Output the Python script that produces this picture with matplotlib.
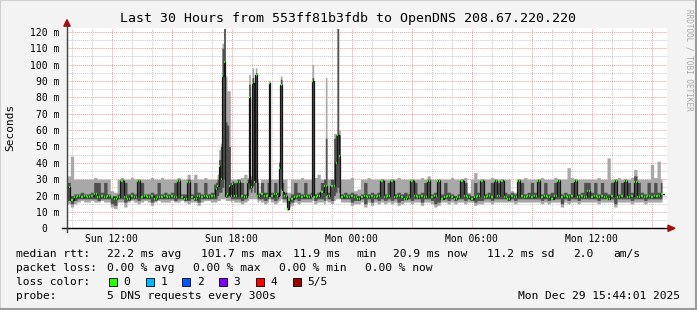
import numpy as np
import matplotlib
matplotlib.use('Agg')
import matplotlib.pyplot as plt
from matplotlib.patches import Rectangle, Polygon

W, H = 697, 310
mono = 'DejaVu Sans Mono'

# 10 minute steps, one row per hour, starting Sun 09:46
med10 = [
    [25, 17, 19, 20, 19, 20], [19, 20, 21, 19, 20, 19], [20, 19, 18, 19, 29, 19],
    [18, 20, 19, 29, 19, 20], [19, 20, 18, 19, 19, 20], [19, 20, 19, 29, 19, 18],
    [28, 19, 18, 20, 19, 20], [19, 20, 20, 20, 22, 20], [21, 27, 20, 28, 20, 19],
    [20, 20, 20, 20, 21, 20], [20, 20, 21, 20, 22, 20], [17, 18, 19, 20, 19, 20],
    [19, 20, 19, 20, 22, 26], [20, 26, 22, 20, 19, 20], [19, 20, 19, 18, 19, 20],
    [19, 20, 19, 20, 29, 19], [20, 29, 19, 20, 19, 18], [19, 29, 20, 19, 20, 19],
    [29, 19, 20, 29, 18, 19], [20, 19, 18, 19, 29, 20], [19, 18, 19, 20, 29, 19],
    [20, 19, 29, 20, 29, 19], [18, 20, 19, 29, 20, 19], [20, 19, 20, 29, 19, 20],
    [19, 18, 20, 29, 19, 20], [19, 20, 29, 19, 20, 19], [23, 19, 20, 19, 20, 19],
    [18, 20, 29, 19, 20, 29], [19, 20, 28, 19, 20, 19], [20, 19, 20, 20, 21, np.nan],
]
hi10 = [
    [32, 44, 30, 30, 30, 30], [30, 30, 31, 30, 30, 30], [30, 23, 22, 30, 31, 30],
    [30, 31, 30, 30, 30, 30], [30, 31, 30, 30, 31, 30], [30, 30, 30, 31, 30, 30],
    [33, 30, 33, 30, 30, 31], [30, 30, 30, 30, 30, 30], [30, 30, 30, 30, 31, 33],
    [30, 30, 30, 22, 30, 30], [30, 30, 30, 30, 30, 30], [22, 30, 30, 30, 31, 30],
    [30, 30, 31, 33, 30, 30], [30, 30, 32, 32, 30, 30], [30, 31, 23, 24, 30, 30],
    [31, 30, 30, 30, 30, 30], [30, 30, 30, 31, 30, 30], [30, 30, 30, 30, 31, 30],
    [32, 30, 30, 30, 30, 30], [30, 31, 30, 30, 30, 31], [22, 30, 34, 30, 30, 30],
    [30, 31, 30, 30, 30, 30], [30, 23, 22, 30, 30, 31], [30, 30, 30, 30, 31, 30],
    [30, 30, 31, 30, 30, 30], [37, 31, 30, 30, 30, 30], [30, 30, 30, 31, 30, 30],
    [43, 30, 30, 31, 30, 30], [30, 31, 36, 30, 30, 30], [30, 39, 31, 41, 30, np.nan],
]
lo10 = [
    [15, 13, 15, 16, 17, 16], [16, 17, 16, 16, 17, 16], [16, 13, 12, 16, 16, 13],
    [16, 17, 16, 15, 16, 17], [16, 14, 16, 17, 16, 16], [16, 17, 16, 16, 17, 16],
    [15, 16, 16, 14, 16, 17], [17, 16, 16, 16, 16, 16], [16, 17, 16, 16, 15, 16],
    [17, 16, 16, 17, 16, 15], [16, 16, 15, 16, 16, 16], [13, 14, 16, 15, 16, 16],
    [16, 16, 15, 16, 16, 15], [16, 15, 16, 16, 16, 16], [16, 14, 15, 15, 16, 13],
    [16, 14, 16, 15, 16, 15], [16, 15, 16, 14, 15, 16], [16, 15, 16, 16, 14, 16],
    [16, 15, 13, 14, 16, 16], [15, 16, 15, 16, 16, 15], [16, 16, 14, 15, 15, 16],
    [16, 15, 16, 16, 16, 16], [16, 16, 15, 16, 16, 16], [16, 16, 16, 16, 15, 16],
    [15, 16, 16, 16, 13, 16], [15, 16, 16, 15, 16, 16], [16, 16, 16, 15, 16, 16],
    [16, 16, 13, 16, 16, 16], [16, 15, 16, 16, 16, 15], [16, 16, 16, 16, 16, np.nan],
]
q1_10 = [
    [17, 15, 17, 18, 18, 18], [18, 18, 18, 17, 18, 18], [18, 15, 14, 18, 18, 16],
    [17, 18, 18, 17, 18, 18], [18, 16, 17, 18, 18, 18], [18, 18, 17, 18, 18, 17],
    [17, 18, 17, 16, 18, 18], [18, 18, 18, 18, 18, 18], [18, 18, 18, 18, 17, 18],
    [18, 18, 18, 18, 18, 17], [18, 18, 17, 18, 18, 18], [15, 16, 18, 17, 18, 18],
    [18, 18, 17, 18, 18, 17], [18, 17, 18, 18, 18, 18], [18, 16, 17, 17, 18, 15],
    [18, 16, 18, 17, 18, 17], [18, 17, 18, 16, 17, 18], [18, 17, 18, 18, 16, 18],
    [18, 17, 15, 16, 18, 18], [17, 18, 17, 18, 18, 17], [18, 17, 16, 17, 17, 18],
    [18, 17, 18, 18, 18, 18], [17, 18, 17, 18, 18, 18], [18, 18, 18, 18, 17, 18],
    [17, 18, 18, 18, 15, 18], [17, 18, 18, 17, 18, 18], [18, 18, 18, 17, 18, 18],
    [18, 18, 15, 18, 18, 18], [18, 17, 18, 18, 18, 17], [18, 18, 18, 18, 18, np.nan],
]
q3_10 = [
    [28, 20, 21, 21, 22, 21], [21, 22, 28, 28, 22, 28], [21, 20, 20, 21, 30, 28],
    [21, 22, 21, 30, 28, 21], [21, 22, 21, 28, 21, 22], [21, 22, 28, 30, 21, 21],
    [30, 21, 28, 22, 21, 28], [21, 22, 27, 28, 27, 28], [30, 29, 28, 30, 28, 21],
    [22, 21, 22, 21, 28, 22], [28, 22, 28, 22, 28, 22], [19, 21, 28, 22, 21, 28],
    [21, 22, 21, 22, 28, 30], [22, 30, 28, 28, 21, 22], [21, 22, 21, 20, 21, 28],
    [21, 22, 21, 22, 30, 21], [28, 30, 21, 22, 21, 22], [21, 30, 28, 21, 22, 28],
    [30, 21, 22, 30, 21, 28], [22, 21, 20, 21, 30, 28], [21, 20, 28, 22, 30, 21],
    [22, 28, 30, 28, 30, 22], [21, 22, 21, 30, 28, 21], [22, 28, 22, 30, 21, 28],
    [21, 22, 28, 30, 21, 22], [21, 28, 30, 21, 22, 28], [28, 22, 28, 21, 28, 22],
    [21, 28, 30, 21, 28, 30], [28, 22, 32, 28, 22, 21], [28, 22, 28, 22, 28, np.nan],
]

# spikes, read at 5 minute resolution (step index from start)
spk_step = [89, 90, 91, 92, 93, 94, 95, 96, 97, 98, 108, 109, 110, 111, 112, 113, 114,
            121, 127, 128, 132, 147, 155, 160, 161, 162, 163]
spk_lo = [16, 17, 17, 18, 18, 18, 17, 17, 17, 16, 17, 18, 18, 18, 18, 18, 16,
          18, 17, 18, 11, 17, 17, 17, 18, 18, 18]
spk_q1 = [18, 20, 22, 22, 25, 30, 19, 19, 20, 18, 20, 24, 22, 26, 22, 28, 18,
          22, 20, 24, 12, 20, 20, 20, 22, 25, 22]
spk_med = [24, 26, 38, 30, 93, 101.7, 20, 21, 26, 20, 28, 80, 25, 89, 28, 93.5, 20,
           88.5, 37, 87.5, 12, 90, 26, 26, 40, 57, 44]
spk_q3 = [28, 30, 42, 50, 110, 122, 65, 63, 50, 28, 30, 88, 30, 92, 30, 95, 28,
          89, 40, 91, 17, 92, 55, 55, 57, 122, 57]
spk_hi = [30, 33, 48, 52, 113, 122, 93, 84, 84, 30, 31, 94, 32, 98, 31, 98, 30,
          90, 41, 93, 22, 100, 92, 58, 58, 122, 60]

start_hour = 9 + 46 / 60
xtick_labels = ['Sun 12:00', 'Sun 18:00', 'Mon 00:00', 'Mon 06:00', 'Mon 12:00']
loss_labels = ['0', '1', '2', '3', '4', '5/5']
loss_colors = ['#26ff00', '#00b8ff', '#0059ff', '#7e00ff', '#ff0000', '#a10000']


def fine(rows):
    return np.repeat(np.array(rows, dtype=float).ravel(), 2)


lo, q1, med, q3, hi = fine(lo10), fine(q1_10), fine(med10), fine(q3_10), fine(hi10)
for i, s in enumerate(spk_step):
    lo[s], q1[s], med[s], q3[s], hi[s] = spk_lo[i], spk_q1[i], spk_med[i], spk_q3[i], spk_hi[i]
t = np.arange(len(med) + 1) / 12.0


def ext(a):
    return np.append(a, a[-1])


def fx(px):
    return px / W


def fy(py):
    return 1 - py / H


fig = plt.figure(figsize=(W / 100, H / 100), dpi=100, facecolor='#f3f3f3')
ax = fig.add_axes([fx(67), fy(228.3), 600 / W, 200.3 / H])
ax.set_facecolor('white')
ax.set_xlim(0, 30)
ymax = 122.3
ax.set_ylim(0, ymax)
for s in ax.spines.values():
    s.set_visible(False)

# grid
dot = (0, (1, 1))
for v in range(5, 125, 10):
    ax.axhline(v, color='#c8c8c8', lw=0.7, ls=dot, zorder=0)
for v in range(10, 121, 10):
    ax.axhline(v, color='#f09a9a', lw=0.7, ls=dot, zorder=0)
first = 12 - start_hour
for k in range(-3, 31):
    h = first + k
    if 0 < h < 30:
        c = '#f09a9a' if k % 3 == 0 else '#c8c8c8'
        ax.axvline(h, color=c, lw=0.7, ls=dot, zorder=0)

# smoke and median
ax.fill_between(t, ext(lo), ext(hi), step='post', color='#a8a8a8', lw=0, zorder=2)
ax.fill_between(t, ext(q1), ext(q3), step='post', color='#505050', lw=0, zorder=3)
ax.step(t, ext(med), where='post', color='#151515', lw=0.9, zorder=4)
ax.hlines(med, t[:-1] + 0.01, t[1:] - 0.01, colors='#26ff00', lw=1.6, zorder=5)

# axes lines and arrows
ax.plot([-0.25, 30.1], [0, 0], color='black', lw=1, clip_on=False, zorder=6)
ax.plot([0, 0], [-2.5, 124], color='#404040', lw=1, clip_on=False, zorder=6)
ax.add_patch(Polygon([[30.05, -1.9], [30.05, 1.9], [30.4, 0]], closed=True,
                     color='#a01010', clip_on=False, zorder=7))
ax.add_patch(Polygon([[-0.16, 123.4], [0.16, 123.4], [0, 127.4]], closed=True,
                     color='#a01010', clip_on=False, zorder=7))

# ticks
ax.set_xticks([first + 6 * k for k in range(len(xtick_labels))])
ax.set_xticklabels(xtick_labels, family=mono, fontsize=7)
yt = list(range(0, 121, 10))
ax.set_yticks(yt)
ax.set_yticklabels([('%d m' % v) if v else '0  ' for v in yt], family=mono, fontsize=7)
ax.tick_params(axis='x', length=0, pad=4)
ax.tick_params(axis='y', length=0, pad=5.5)

# texts
fig.text(fx(348), fy(18.5), 'Last 30 Hours from 553ff81b3fdb to OpenDNS 208.67.220.220',
         ha='center', va='center', family=mono, fontsize=9.5)
fig.text(fx(10), fy(127), 'Seconds', rotation=90, ha='center', va='center',
         family=mono, fontsize=8)
fig.text(fx(689), fy(60), 'RRDTOOL / TOBI OETIKER', rotation=270, ha='center',
         va='center', family=mono, fontsize=5.5, color='#a8a8a8')

legend = [
    (254.3, [('median rtt:', 16), ('22.2 ms avg', 107.3), ('101.7 ms max', 200.7),
             ('11.9 ms', 293.3), ('min', 356), ('20.9 ms now', 392.7),
             ('11.2 ms sd', 486.7), ('2.0', 572.7), ('am/s', 613.3)]),
    (268.3, [('packet loss:', 16), ('0.00 % avg', 107.3), ('0.00 % max', 193.3),
             ('0.00 % min', 279.3), ('0.00 % now', 365)]),
    (282.3, [('loss color:', 16)]),
    (296.3, [('probe:', 16), ('5 DNS requests every 300s', 107.3)]),
]
for yy, items in legend:
    for s, xx in items:
        fig.text(fx(xx), fy(yy), s, ha='left', va='center', family=mono, fontsize=8.1)
fig.text(fx(680.5), fy(296.3), 'Mon Dec 29 15:44:01 2025', ha='right', va='center',
         family=mono, fontsize=8.1)

sq_x = [109, 145.7, 182.3, 219, 256, 292.7]
for i, lab in enumerate(loss_labels):
    fig.patches.append(Rectangle((fx(sq_x[i]), fy(286.3)), 8 / W, 8 / H,
                                 transform=fig.transFigure, facecolor=loss_colors[i],
                                 edgecolor='black', lw=0.6))
    fig.text(fx(sq_x[i] + 14.5), fy(282.3), lab, ha='left', va='center',
             family=mono, fontsize=8.1)

# frame
fig.patches.append(Rectangle((0, 0), 1, 1, transform=fig.transFigure, fill=False,
                             edgecolor='#cfcfcf', lw=1.5))
fig.lines.append(plt.Line2D([0, 1], [fy(309), fy(309)], transform=fig.transFigure,
                            color='#9a9a9a', lw=1.5))
fig.lines.append(plt.Line2D([fx(696), fx(696)], [0, 1], transform=fig.transFigure,
                            color='#9a9a9a', lw=1.5))

fig.savefig('out.png', dpi=100, facecolor=fig.get_facecolor())
